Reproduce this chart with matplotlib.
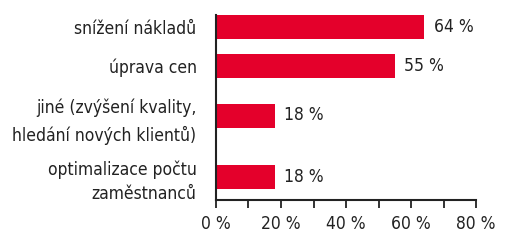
import matplotlib
matplotlib.use('Agg')
import matplotlib.pyplot as plt

# data
labels = ['snížení nákladů', 'úprava cen',
          'jiné (zvýšení kvality,\nhledání nových klientů)',
          'optimalizace počtu\nzaměstnanců']
values = [64, 55, 18, 18]
ticks = [0, 20, 40, 60, 80]
tick_labels = ['0 %', '20 %', '40 %', '60 %', '80 %']

# layout (pixel rows of bar centres)
ypos = [27, 66, 115.5, 177]
red = '#e4002b'
dark = '#222222'
font = ['DejaVu Sans']
fs = 12.5

fig = plt.figure(figsize=(5.1, 2.4), dpi=100)
ax = fig.add_axes([216 / 510, 40 / 240, 260 / 510, 185 / 240])

ax.barh(ypos, values, height=24, color=red)
ax.set_ylim(200, 15)
ax.set_xlim(0, 80)

for y, v in zip(ypos, values):
    ax.text(v + 3, y, '{0} %'.format(v), va='center', ha='left',
            fontsize=fs, family=font, stretch='condensed', color=dark)

ax.set_yticks(ypos)
ax.set_yticklabels(labels, family=font, fontsize=fs, stretch='condensed',
                   color=dark, ha='right')
for t, ls in zip(ax.get_yticklabels(), [1, 1, 1.6, 1.4]):
    t.set_linespacing(ls)
ax.tick_params(axis='y', length=0, pad=14)

ax.set_xticks(ticks)
ax.set_xticks([10, 30, 50, 70], minor=True)
ax.set_xticklabels(tick_labels, family=font, fontsize=fs, stretch='condensed',
                   color=dark)
ax.tick_params(axis='x', which='both', length=6, width=1.3, color=dark,
               direction='out', pad=5)

for s in ['top', 'right']:
    ax.spines[s].set_visible(False)
for s in ['left', 'bottom']:
    ax.spines[s].set_color(dark)
    ax.spines[s].set_linewidth(1.5)

fig.savefig('out.png', dpi=100)
